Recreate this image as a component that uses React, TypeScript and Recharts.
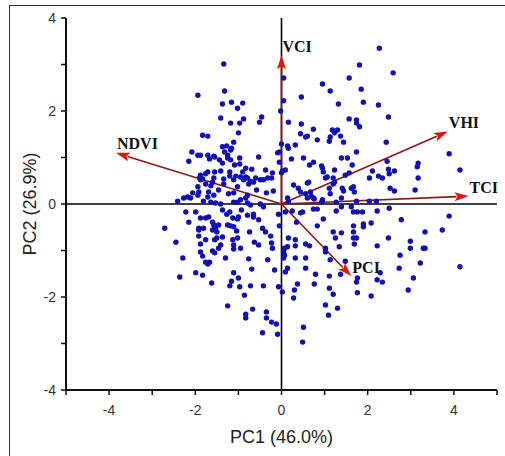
import React from 'react';
import { ScatterChart, Scatter, XAxis, YAxis, ReferenceLine } from 'recharts';

const xTicks = [-5, -4, -3, -2, -1, 0, 1, 2, 3, 4, 5];
const yTicks = [-4, -3, -2, -1, 0, 1, 2, 3, 4];
const labeledTicks = [-4, -2, 0, 2, 4];

const xTitle = 'PC1 (46.0%)';
const yTitle = 'PC2 (26.9%)';

const variableNames = ['VCI', 'VHI', 'TCI', 'NDVI', 'PCI'];
const loadingPC1 = [0.0, 3.86, 4.34, -3.84, 1.62];
const loadingPC2 = [3.2, 1.56, 0.17, 1.1, -1.55];

const scoresTop: number[][] = [
  [-1.34,3.01],[-1.94,2.34],[-1.32,2.43],[-1.37,2.15],[-1.16,2.19],[-0.90,2.17],[-1.02,2.06],[-1.41,1.85],[-1.18,1.74],[-0.97,1.74],[-0.88,1.83],[-0.46,1.87],[-0.51,1.76],[-1.00,1.53],[-1.83,1.48],[-1.71,1.46],[-1.11,1.33],[-1.37,1.23],[-1.27,1.25],[-1.16,1.20],[0.05,2.71],[0.05,2.22],[-0.02,2.00],[0.00,1.29],[2.27,3.35],[1.81,2.99],[2.59,2.82],[1.57,2.71],[0.95,2.58],[1.13,2.43],[1.85,2.47],[0.46,2.30],[1.90,2.19],[1.32,2.15],[2.25,2.13],[2.48,1.87],[1.57,1.83],[1.74,1.81],[1.74,1.74],[1.81,1.66],[0.16,1.76],[0.46,1.72],[0.74,1.61],[1.18,1.59],[1.30,1.59],[1.23,1.53],[0.44,1.51],[0.56,1.44],[0.60,1.46],[0.83,1.38],[1.13,1.44],[1.11,1.35],[1.37,1.46],[1.44,1.33],[2.43,1.33],[0.32,1.27],[0.16,1.20]
];

const scoresUpperLeft: number[][] = [
  [-2.08,1.12],[-1.94,1.05],[-1.88,1.05],[-2.15,0.92],[-1.71,1.05],[-1.67,0.97],[-1.57,1.03],[-1.55,1.01],[-1.32,1.12],[-1.25,1.05],[-1.18,1.16],[-1.25,0.99],[-1.18,0.95],[-0.97,0.99],[-0.97,0.86],[-1.37,0.88],[-0.53,1.01],[-0.83,0.77],[-0.69,0.75],[-0.90,0.69],[-1.20,0.69],[-1.41,0.71],[-1.55,0.69],[-1.71,0.69],[-1.88,0.62],[-1.76,0.65],[-1.90,0.56],[-1.83,0.54],[-1.88,0.52],[-1.57,0.56],[-1.60,0.47],[-1.76,0.43],[-1.34,0.54],[-1.34,0.43],[-1.20,0.60],[-1.06,0.60],[-1.11,0.52],[-0.95,0.58],[-0.83,0.58],[-0.88,0.52],[-0.79,0.56],[-0.72,0.49],[-0.76,0.43],[-0.37,0.73],[-0.32,0.56],[-0.42,0.52],[-0.49,0.52],[-0.21,0.67],[-0.23,0.56],[-0.05,1.12],[-0.05,0.90],[0.00,0.67],[-1.94,0.37],[-1.92,0.26],[-1.94,0.19],[-1.69,0.26],[-1.57,0.19],[-1.71,0.15],[-1.23,0.22],[-1.11,0.24],[-0.79,0.19],[-0.83,0.13],[-0.95,0.09],[-2.11,0.13],[-2.18,0.15],[-2.27,0.13],[-2.41,0.06],[-1.81,0.06],[-1.64,0.04],[-1.53,0.02],[-1.41,0.00],[-1.11,0.04],[-1.02,0.04],[-0.79,0.02],[-0.72,-0.02],[-0.49,0.00],[-0.42,-0.06],[-0.35,0.24],[-0.19,0.28],[-0.60,0.56],[-0.65,0.47],[-0.09,1.10],[0.02,0.71],[-2.06,0.24],[-1.64,0.39],[-1.46,0.30],[-1.02,0.37],[-0.58,0.30],[-1.44,0.95],[-1.09,0.84]
];

const scoresUpperRight: number[][] = [
  [0.14,1.25],[0.23,0.97],[0.51,0.99],[0.74,0.90],[0.65,0.84],[0.93,0.82],[0.95,0.77],[0.97,0.69],[1.23,0.73],[1.06,0.58],[1.02,0.56],[1.39,0.99],[1.53,0.99],[1.64,0.84],[1.74,1.12],[1.57,0.67],[1.48,0.62],[1.20,0.56],[1.23,0.47],[2.04,0.56],[2.11,0.71],[2.25,0.60],[2.34,0.56],[2.45,0.92],[2.48,0.75],[2.62,0.71],[2.50,0.65],[3.17,0.88],[3.15,0.80],[3.17,0.56],[3.10,0.30],[3.89,1.08],[4.14,0.73],[0.28,0.41],[0.39,0.34],[0.44,0.26],[0.60,0.45],[0.63,0.47],[0.56,0.22],[0.67,0.26],[0.60,0.13],[0.74,0.13],[1.11,0.34],[1.13,0.22],[1.20,0.43],[1.41,0.34],[1.44,0.28],[1.62,0.34],[1.67,0.37],[1.39,0.13],[2.52,0.34],[2.62,0.28],[0.14,0.13],[0.16,0.06],[0.95,0.09],[1.74,0.06],[2.04,0.06],[2.20,0.06],[1.27,0.04],[0.93,0.04],[0.76,0.11],[0.69,0.17],[1.69,0.26],[0.09,0.73]
];

const scoresLowerLeft: number[][] = [
  [-2.71,-0.52],[-2.45,-0.82],[-2.29,-1.16],[-2.36,-1.57],[-1.99,-0.17],[-2.15,-0.39],[-1.88,-0.30],[-1.76,-0.30],[-1.69,-0.28],[-1.92,-0.52],[-1.92,-0.56],[-1.81,-0.52],[-1.92,-0.69],[-1.88,-0.86],[-1.88,-1.03],[-1.83,-1.12],[-1.76,-1.25],[-1.71,-1.29],[-1.67,-1.25],[-1.99,-1.48],[-1.83,-1.53],[-1.62,-1.70],[-1.60,-0.39],[-1.57,-0.45],[-1.53,-0.52],[-1.46,-0.45],[-1.60,-0.56],[-1.50,-0.60],[-1.55,-0.77],[-1.50,-0.73],[-1.37,-0.71],[-1.60,-1.01],[-1.55,-1.05],[-1.46,-0.95],[-1.41,-0.88],[-1.27,-0.22],[-1.20,-0.17],[-1.13,-0.30],[-1.02,-0.32],[-1.00,-0.28],[-1.25,-0.45],[-1.18,-0.47],[-1.11,-0.49],[-1.04,-0.58],[-1.02,-0.73],[-1.13,-0.77],[-1.11,-0.88],[-1.11,-0.97],[-0.95,-0.95],[-0.79,-0.24],[-0.65,-0.28],[-0.65,-0.22],[-0.74,-0.60],[-0.63,-0.82],[-0.76,-1.18],[-0.69,-1.40],[-1.11,-1.48],[-1.16,-1.66],[-1.00,-1.59],[-1.20,-1.76],[-0.97,-1.78],[-0.72,-1.76],[-0.42,-1.76],[-0.32,-1.20],[-0.16,-1.42],[-0.37,-0.60],[-0.25,-0.69],[-0.23,-0.84],[-0.21,-0.95],[-0.07,-0.22],[-0.05,-0.47],[-0.07,-1.78],[0.02,-1.89],[-0.86,-1.96],[-1.25,-2.19],[-0.67,-2.26],[-0.83,-2.37],[-0.83,-2.45],[-0.35,-2.32],[-0.35,-2.45],[-0.23,-2.54],[-0.12,-2.58],[-0.44,-2.77],[-0.09,-2.80],[0.05,-1.16],[0.05,-1.03],[-2.22,-0.17],[-1.37,-0.13],[-0.93,-0.13],[-0.53,-0.34],[-0.44,-0.52],[-1.76,-0.77],[-1.30,-1.16],[-0.53,-0.88]
];

const scoresLowerRight: number[][] = [
  [0.09,-0.17],[0.25,-0.15],[0.44,-0.19],[0.49,-0.17],[0.74,-0.11],[0.83,-0.11],[1.27,-0.15],[1.39,-0.06],[1.62,-0.06],[1.67,-0.17],[1.76,-0.17],[1.88,-0.17],[2.22,-0.15],[2.50,-0.09],[3.89,-0.26],[2.78,-0.34],[0.35,-0.39],[0.97,-0.32],[0.83,-0.47],[1.67,-0.47],[1.67,-0.60],[1.90,-0.43],[1.90,-0.49],[2.08,-0.41],[1.20,-0.60],[1.39,-0.62],[3.73,-0.56],[3.33,-0.60],[0.16,-0.73],[0.32,-0.77],[0.56,-0.86],[0.65,-0.90],[0.32,-0.90],[0.14,-0.92],[0.07,-0.95],[1.25,-0.73],[1.34,-0.92],[1.02,-0.95],[1.02,-1.03],[1.67,-0.73],[1.74,-0.73],[1.69,-0.86],[2.22,-0.90],[2.48,-0.73],[2.99,-0.80],[2.99,-0.95],[3.29,-0.95],[3.33,-0.95],[2.75,-1.10],[2.73,-1.38],[3.22,-1.27],[4.14,-1.35],[0.32,-1.16],[0.56,-1.16],[0.07,-1.10],[0.56,-1.38],[0.14,-1.38],[0.09,-1.46],[1.13,-1.20],[1.48,-1.23],[2.29,-1.48],[2.22,-1.63],[2.34,-1.68],[1.37,-1.51],[1.11,-1.55],[0.79,-1.51],[1.76,-1.59],[1.74,-1.68],[0.76,-1.72],[0.37,-1.72],[3.06,-1.59],[2.94,-1.85],[1.11,-1.81],[0.30,-1.85],[0.28,-2.02],[1.20,-1.94],[1.76,-1.91],[2.08,-1.98],[1.02,-2.17],[1.30,-2.24],[1.09,-2.39],[0.51,-2.65],[0.49,-2.97]
];

const scoreData = [...scoresTop, ...scoresUpperLeft, ...scoresUpperRight, ...scoresLowerLeft, ...scoresLowerRight].map(
  ([x, y]) => ({ x, y })
);

const loadings = variableNames.map((name, i) => ({ name, x: loadingPC1[i], y: loadingPC2[i] }));

const SANS = '"Liberation Sans", Arial, sans-serif';
const SERIF = '"Liberation Serif", "Times New Roman", serif';
const AXIS = '#111';

const Dot = (p: any) => {
  if (p.cx == null || p.cy == null) return <g />;
  return <circle cx={p.cx} cy={p.cy} r={2.7} fill="#1010b4" />;
};

const XTick = (p: any) => {
  const v = p.payload?.value;
  if (!labeledTicks.includes(v)) return <g />;
  return (
    <text x={p.x} y={p.y} dy="0.71em" textAnchor="middle" fontSize={14} fill="#333" fontFamily={SANS}>
      {v}
    </text>
  );
};

const YTick = (p: any) => {
  const v = p.payload?.value;
  if (!labeledTicks.includes(v)) return <g />;
  return (
    <text x={p.x} y={p.y} dy="0.355em" textAnchor="end" fontSize={14} fill="#333" fontFamily={SANS}>
      {v}
    </text>
  );
};

const makeArrow = (name: string) => (props: any) => {
  const { x1, y1, x2, y2 } = props;
  if ([x1, y1, x2, y2].some((v) => v == null || Number.isNaN(v))) return <g />;
  const dx = x2 - x1;
  const dy = y2 - y1;
  const len = Math.hypot(dx, dy) || 1;
  const ux = dx / len;
  const uy = dy / len;
  const headLen = 14;
  const headW = 4.5;
  const bx = x2 - ux * headLen;
  const by = y2 - uy * headLen;
  const px = -uy;
  const py = ux;
  return (
    <g>
      <line x1={x1} y1={y1} x2={bx + ux * 2} y2={by + uy * 2} stroke="#931616" strokeWidth={1.6} />
      <polygon
        points={`${x2},${y2} ${bx + px * headW},${by + py * headW} ${bx + ux * 3},${by + uy * 3} ${bx - px * headW},${by - py * headW}`}
        fill="#e3120d"
      />
      <text x={x2 + 1} y={y2 - 9} dominantBaseline="central" fontFamily={SERIF} fontWeight="bold" fontSize={16} fill="#111">
        {name}
      </text>
    </g>
  );
};

const XTitle = (p: any) => {
  const vb = p.viewBox || { x: 66, y: 390, width: 431, height: 50 };
  return (
    <text x={vb.x + vb.width / 2} y={vb.y + 47} textAnchor="middle" dominantBaseline="central" fontSize={18} fill="#222" fontFamily={SANS}>
      {xTitle}
    </text>
  );
};

const YTitle = (p: any) => {
  const vb = p.viewBox || { x: 6, y: 18, width: 60, height: 372 };
  const cx = vb.x + 24;
  const cy = vb.y + vb.height / 2;
  return (
    <text
      x={cx}
      y={cy}
      transform={`rotate(-90, ${cx}, ${cy})`}
      textAnchor="middle"
      dominantBaseline="central"
      fontSize={18}
      fill="#222"
      fontFamily={SANS}
    >
      {yTitle}
    </text>
  );
};

export default function App() {
  return (
    <div style={{ position: 'absolute', left: 0, top: 0, width: 505, height: 456, background: '#fff', overflow: 'hidden' }}>
      <div
        style={{
          position: 'absolute',
          left: 9,
          top: 5,
          width: 520,
          height: 480,
          borderLeft: '1.5px solid #333',
          borderTop: '1.5px solid #333',
        }}
      />
      <div style={{ position: 'absolute', left: 0, top: 0 }}>
        <ScatterChart width={505} height={456} margin={{ top: 18, right: 8, bottom: 16, left: 6 }}>
          <XAxis
            type="number"
            dataKey="x"
            domain={[-5, 5]}
            ticks={xTicks}
            interval={0}
            tick={<XTick />}
            tickSize={5}
            tickMargin={10}
            height={50}
            axisLine={{ stroke: AXIS, strokeWidth: 2 }}
            tickLine={{ stroke: AXIS, strokeWidth: 1.5 }}
            allowDataOverflow
            label={{ content: XTitle }}
          />
          <YAxis
            type="number"
            dataKey="y"
            domain={[-4, 4]}
            ticks={yTicks}
            interval={0}
            tick={<YTick />}
            tickSize={5}
            tickMargin={5}
            width={60}
            axisLine={{ stroke: AXIS, strokeWidth: 2 }}
            tickLine={{ stroke: AXIS, strokeWidth: 1.5 }}
            allowDataOverflow
            label={{ content: YTitle }}
          />
          <ReferenceLine x={0} stroke="#000" strokeWidth={1.6} />
          <ReferenceLine y={0} stroke="#000" strokeWidth={1.6} />
          <Scatter data={scoreData} shape={Dot} isAnimationActive={false} />
          {loadings.map((l) => (
            <ReferenceLine
              key={l.name}
              segment={[
                { x: 0, y: 0 },
                { x: l.x, y: l.y },
              ]}
              shape={makeArrow(l.name)}
            />
          ))}
        </ScatterChart>
      </div>
    </div>
  );
}
